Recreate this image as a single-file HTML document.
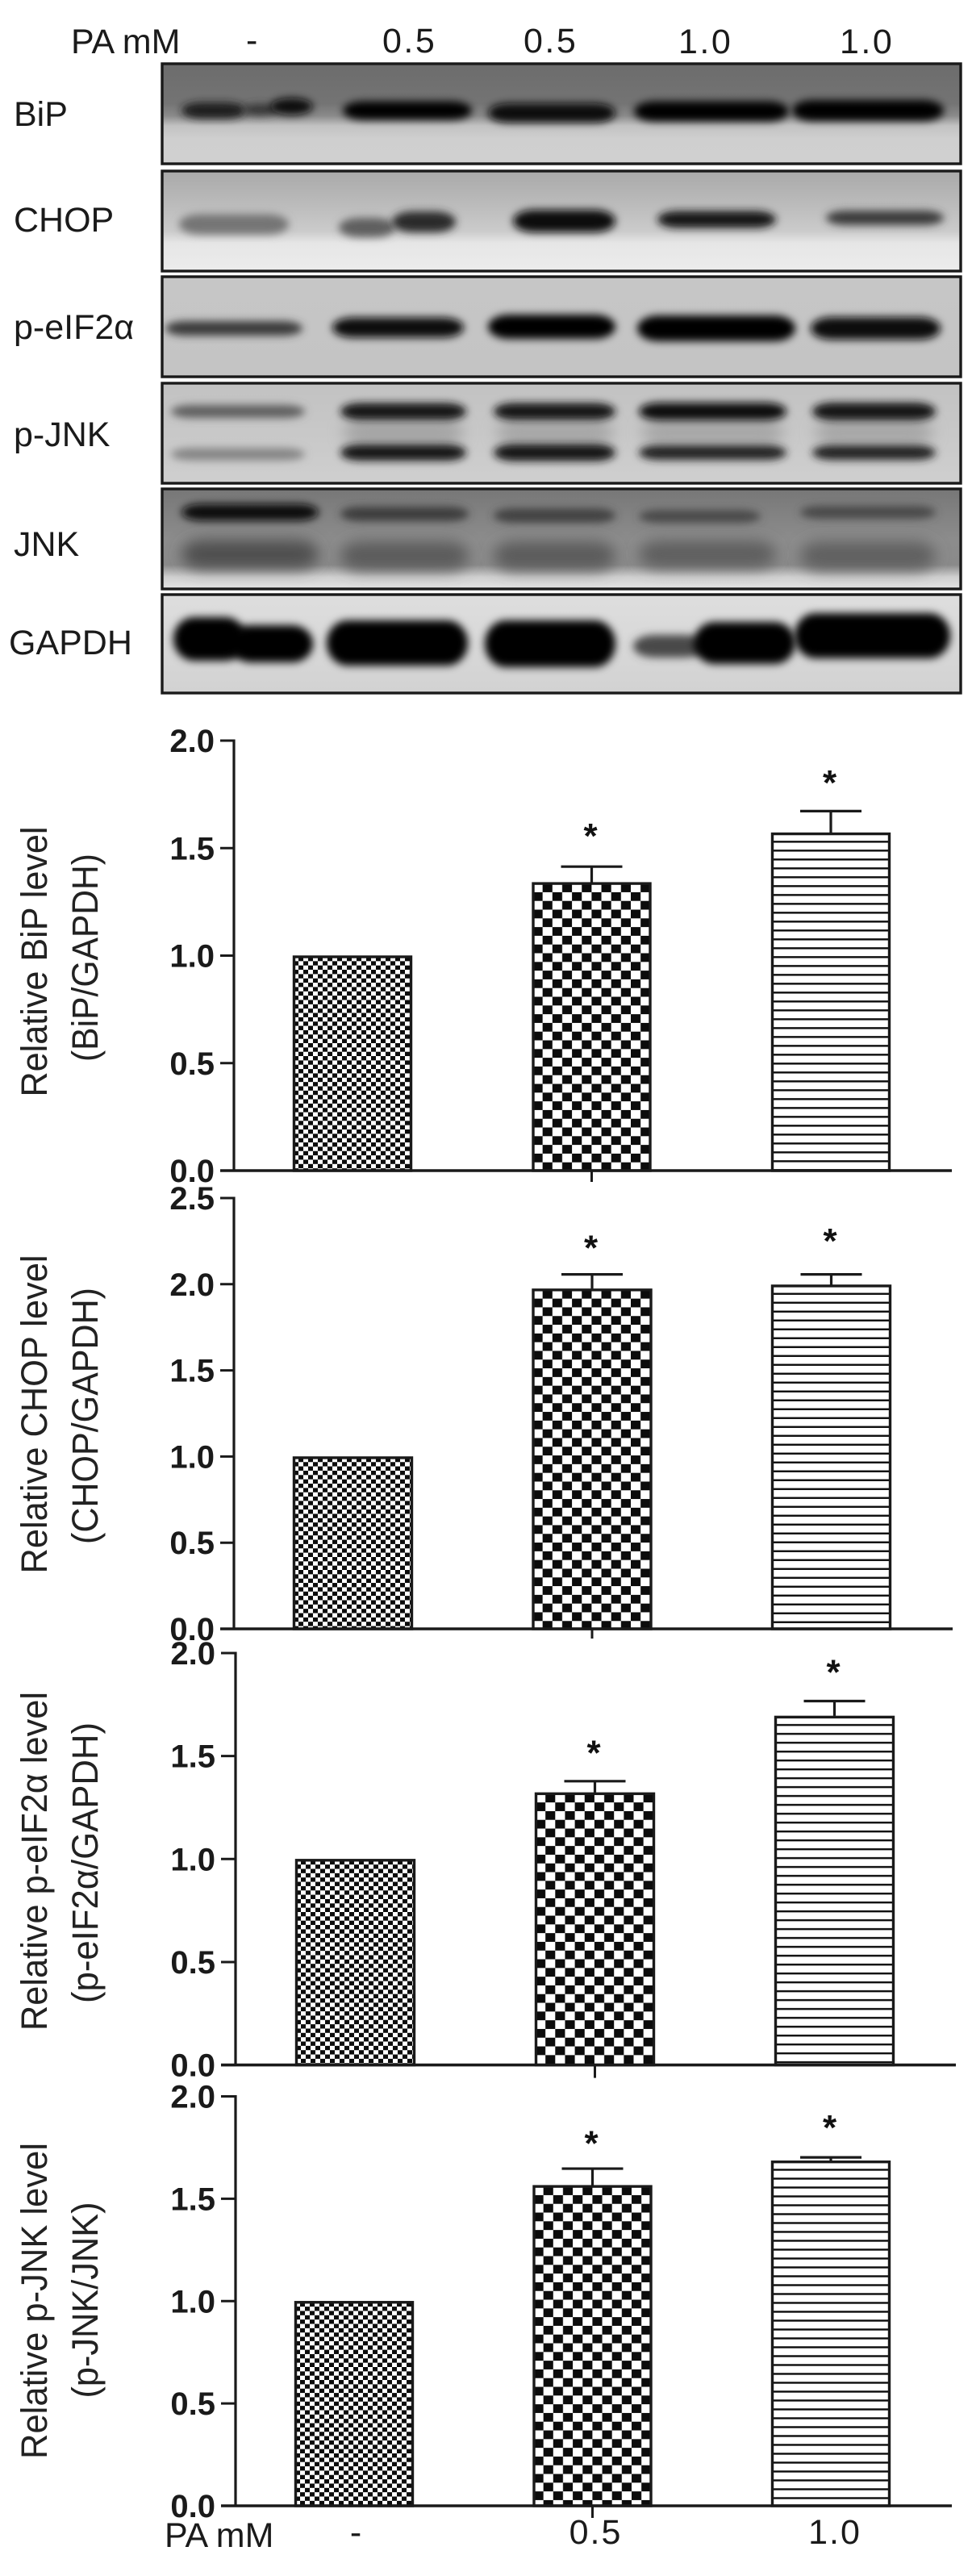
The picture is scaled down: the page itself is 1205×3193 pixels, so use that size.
<!DOCTYPE html>
<html lang="en">
<head>
<meta charset="utf-8">
<title>PA induced ER stress blots and quantification</title>
<style>
html,body{margin:0;padding:0;background:#fff;}
svg{display:block;font-family:"Liberation Sans",Arial,sans-serif;}
</style>
</head>
<body>
<svg id="figure" xmlns="http://www.w3.org/2000/svg" width="1205" height="3193" viewBox="0 0 1205 3193">
  <defs>
    <filter id="blur-band" x="-20%" y="-150%" width="140%" height="400%"><feGaussianBlur stdDeviation="5"/></filter>
    <filter id="blur-soft" x="-20%" y="-150%" width="140%" height="400%"><feGaussianBlur stdDeviation="9"/></filter>
  </defs>
  <g font-size="43" fill="#1a1a1a">
    <text x="88" y="66">PA mM</text>
    <text x="305" y="64">-</text>
    <text x="474" y="65" letter-spacing="2.5">0.5</text>
    <text x="649" y="65" letter-spacing="2.5">0.5</text>
    <text x="841" y="66" letter-spacing="2.5">1.0</text>
    <text x="1041" y="66" letter-spacing="2.5">1.0</text>
  </g>
  <g font-size="43" fill="#1a1a1a">
    <text x="17" y="156">BiP</text>
    <text x="17" y="287">CHOP</text>
    <text x="17" y="420">p-eIF2α</text>
    <text x="17" y="553">p-JNK</text>
    <text x="17" y="689">JNK</text>
    <text x="11" y="811">GAPDH</text>
  </g>
  <g id="blots"></g>
  <g id="charts"></g>
</svg>
<script>
// ---- chart data ----
const categories = ['-', '0.5', '1.0'];
const bipValues = [1.0, 1.341, 1.572];
const bipErrors = [0, 0.073, 0.100];
const bipStars = [null, 1.587, 1.835];
const bipTicks = ['0.0', '0.5', '1.0', '1.5', '2.0'];
const chopValues = [1.0, 1.974, 1.997];
const chopErrors = [0, 0.083, 0.060];
const chopStars = [null, 2.25, 2.29];
const chopTicks = ['0.0', '0.5', '1.0', '1.5', '2.0', '2.5'];
const eifValues = [1.0, 1.323, 1.695];
const eifErrors = [0, 0.055, 0.072];
const eifStars = [null, 1.548, 1.939];
const eifTicks = ['0.0', '0.5', '1.0', '1.5', '2.0'];
const jnkValues = [1.0, 1.566, 1.686];
const jnkErrors = [0, 0.081, 0.016];
const jnkStars = [null, 1.802, 1.88];
const jnkTicks = ['0.0', '0.5', '1.0', '1.5', '2.0'];

// ---- chart frames ----
const charts = [
  {key:'bip', values:bipValues, errors:bipErrors, stars:bipStars, ticks:bipTicks,
   top:918, base:1451, axisX:290, left:273, right:1180, first:437, step:296.5, barW:148, tickEnd:1465,
   title:'Relative BiP level', titleLen:335, titleMid:1192, sub:'(BiP/GAPDH)', subLen:258, subMid:1187},
  {key:'chop', values:chopValues, errors:chopErrors, stars:chopStars, ticks:chopTicks,
   top:1485, base:2019, axisX:290, left:273, right:1181, first:437.5, step:296.5, barW:149, tickEnd:2031,
   title:'Relative CHOP level', titleLen:395, titleMid:1753, sub:'(CHOP/GAPDH)', subLen:318, subMid:1755},
  {key:'p-eif2a', values:eifValues, errors:eifErrors, stars:eifStars, ticks:eifTicks,
   top:2049, base:2559.6, axisX:292, left:274, right:1185, first:440.5, step:297, barW:149, tickEnd:2575.6,
   title:'Relative p-eIF2α level', titleLen:420, titleMid:2307, sub:'(p-eIF2α/GAPDH)', subLen:348, subMid:2309},
  {key:'p-jnk', values:jnkValues, errors:jnkErrors, stars:jnkStars, ticks:jnkTicks,
   top:2598.5, base:3106, axisX:292, left:274, right:1180, first:439, step:295.5, barW:148, tickEnd:3121,
   title:'Relative p-JNK level', titleLen:392, titleMid:2852, sub:'(p-JNK/JNK)', subLen:243, subMid:2851}
];

// ---- blot panels: background gradient stops and blurred bands ----
const bipBackground = [[0,'#6c6c6c'],[0.4,'#747474'],[0.52,'#8a8a8a'],[0.62,'#c2c2c2'],[0.75,'#cfcfcf'],[1,'#d0d0d0']];
const chopBackground = [[0,'#a9a9a9'],[0.35,'#bcbcbc'],[0.6,'#cbcbcb'],[0.72,'#e6e6e6'],[1,'#ececec']];
const eifBackground = [[0,'#c6c6c6'],[1,'#c4c4c4']];
const pjnkBackground = [[0,'#c2c2c2'],[0.5,'#c8c8c8'],[1,'#cfcfcf']];
const jnkBackground = [[0,'#777777'],[0.5,'#8c8c8c'],[0.76,'#8a8a8a'],[0.88,'#cfcfcf'],[1,'#e4e4e4']];
const gapdhBackground = [[0,'#dedede'],[0.5,'#d8d8d8'],[1,'#d2d2d2']];

const bipBands = [[225,305,137,20,'#1a1a1a'],[300,345,136,14,'#333'],[335,388,132,21,'#0a0a0a'],[425,585,137,23,'#050505'],[605,763,140,24,'#0a0a0a'],[786,978,138,25,'#060606'],[982,1170,137,26,'#050505']];
const chopBands = [[222,358,278,25,'#747474'],[420,490,282,24,'#5e5e5e'],[486,565,275,26,'#2a2a2a'],[636,763,274,28,'#0e0e0e'],[815,962,272,21,'#181818'],[1024,1170,270,18,'#3a3a3a']];
const eifBands = [[205,375,407,18,'#3a3a3a'],[412,575,406,25,'#0a0a0a'],[605,763,405,30,'#060606'],[790,986,407,32,'#040404'],[1005,1166,407,28,'#0a0a0a']];
const pjnkBands = [[425,575,536,28,'#a2a2a2',1],[615,761,536,28,'#a4a4a4',1],[795,972,536,28,'#a4a4a4',1],[1010,1157,536,28,'#a4a4a4',1],
  [212,378,510,16,'#5e5e5e'],[212,378,563,15,'#848484'],[422,578,510,21,'#121212'],[422,578,561,20,'#181818'],[612,763,510,21,'#121212'],[612,763,561,21,'#181818'],[792,975,510,22,'#0e0e0e'],[792,975,561,18,'#202020'],[1007,1160,510,22,'#121212'],[1007,1160,561,18,'#222222']];
const jnkBands = [[225,395,635,21,'#0e0e0e'],[422,581,637,18,'#3c3c3c'],[612,763,639,18,'#424242'],[792,943,640,16,'#484848'],[992,1160,635,16,'#484848'],
  [225,395,687,36,'#505050',1],[422,581,689,36,'#5c5c5c',1],[612,763,689,36,'#5c5c5c',1],[792,962,687,34,'#5e5e5e',1],[992,1160,689,36,'#606060',1]];
const gapdhBands = [[215,305,792,54,'#000'],[285,388,798,46,'#000'],[405,580,797,56,'#000'],[601,763,798,58,'#000'],[785,875,801,28,'#4a4a4a'],[860,986,797,52,'#000'],[985,1178,788,56,'#000']];

const panels = [
  {key:'bip', x:201, y:79, w:990, h:124, stops:bipBackground, bands:bipBands},
  {key:'chop', x:201, y:212, w:990, h:124, stops:chopBackground, bands:chopBands},
  {key:'p-eif2a', x:201, y:343, w:990, h:124, stops:eifBackground, bands:eifBands},
  {key:'p-jnk', x:201, y:475, w:990, h:124, stops:pjnkBackground, bands:pjnkBands},
  {key:'jnk', x:201, y:606, w:990, h:124, stops:jnkBackground, bands:jnkBands},
  {key:'gapdh', x:201, y:737, w:990, h:122, stops:gapdhBackground, bands:gapdhBands}
];

const NS = 'http://www.w3.org/2000/svg';
const INK = '#1a1a1a';
const svgRoot = document.getElementById('figure');
const defsEl = svgRoot.querySelector('defs');

function make(tag, attrs, parent) {
  const node = document.createElementNS(NS, tag);
  for (const k in attrs) node.setAttribute(k, attrs[k]);
  if (parent) parent.appendChild(node);
  return node;
}

function drawPanels() {
  const host = document.getElementById('blots');
  panels.forEach(function (p) {
    const grad = make('linearGradient', {id:'bg-' + p.key, x1:0, y1:0, x2:0, y2:1}, defsEl);
    p.stops.forEach(function (s) { make('stop', {offset:s[0], 'stop-color':s[1]}, grad); });
    const clip = make('clipPath', {id:'clip-' + p.key}, defsEl);
    make('rect', {x:p.x, y:p.y, width:p.w, height:p.h}, clip);

    const g = make('g', {'clip-path':'url(#clip-' + p.key + ')'}, host);
    
    
    make('rect', {x:p.x, y:p.y, width:p.w, height:p.h, fill:'url(#bg-' + p.key + ')'}, g);
    p.bands.forEach(function (b, i) {
      const band = make('rect', {x:b[0], y:b[2] - b[3] / 2, width:b[1] - b[0], height:b[3], rx:26, ry:b[3] / 2, fill:b[4], filter:b[5] ? 'url(#blur-soft)' : 'url(#blur-band)'}, g);
      
      
    });
    const frame = make('rect', {x:p.x, y:p.y, width:p.w, height:p.h, fill:'none', stroke:INK, 'stroke-width':3.4}, host);
    
    
  });
}

function addPattern(id, kind, originX, originY) {
  if (kind === 0 || kind === 1) {
    const cw = kind === 0 ? 6 : 12.15;
    const ch = kind === 0 ? 5.35 : 10.8;
    const pat = make('pattern', {id:id, patternUnits:'userSpaceOnUse', x:originX, y:originY, width:cw * 2, height:ch * 2}, defsEl);
    make('rect', {x:0, y:0, width:cw * 2, height:ch * 2, fill:'#fff'}, pat);
    make('rect', {x:cw, y:0, width:cw, height:ch, fill:'#0c0c0c'}, pat);
    make('rect', {x:0, y:ch, width:cw, height:ch, fill:'#0c0c0c'}, pat);
  } else {
    const pat = make('pattern', {id:id, patternUnits:'userSpaceOnUse', x:originX, y:originY, width:10, height:11}, defsEl);
    make('rect', {x:0, y:0, width:10, height:11, fill:'#fff'}, pat);
    make('rect', {x:0, y:8.6, width:10, height:3, fill:'#0c0c0c'}, pat);
  }
}

function drawChart(c) {
  const host = document.getElementById('charts');
  const g = make('g', {}, host);
  
  

  const tickVals = c.ticks.map(Number);
  const yMax = Math.max.apply(null, tickVals);
  const y = function (v) { return c.base - (v / yMax) * (c.base - c.top); };
  const x = function (i) { return c.first + i * c.step; };

  // bars
  c.values.forEach(function (v, i) {
    const left = x(i) - c.barW / 2;
    const topY = y(v);
    const pid = 'fill-' + c.key + '-' + i;
    addPattern(pid, i, left + 1, topY + 1.5);
    const bar = make('rect', {x:left + 1.5, y:topY + 1.5, width:c.barW - 3, height:c.base - topY - 1.5, fill:'url(#' + pid + ')', stroke:INK, 'stroke-width':3.4}, g);
    
    

    if (c.errors[i] > 0) {
      const capY = y(v + c.errors[i]);
      const err = make('path', {d:'M' + (x(i) - 38) + ' ' + capY + 'H' + (x(i) + 38) + 'M' + x(i) + ' ' + capY + 'V' + topY, stroke:INK, 'stroke-width':3.2, fill:'none'}, g);
      
      
    }
    if (c.stars[i] !== null) {
      const star = make('text', {x:x(i) - 1.5, y:y(c.stars[i]) + 23, 'text-anchor':'middle', 'font-size':44, 'font-weight':'bold', fill:'#111'}, g);
      star.textContent = '*';
      
      
    }
  });

  // axes
  const yAxis = make('line', {x1:c.axisX, x2:c.axisX, y1:c.top - 1.5, y2:c.base, stroke:INK, 'stroke-width':3.2}, g);
  
  
  const xAxis = make('line', {x1:c.left, x2:c.right, y1:c.base, y2:c.base, stroke:INK, 'stroke-width':3.6}, g);
  
  
  const xTick = make('line', {x1:x(1), x2:x(1), y1:c.base, y2:c.tickEnd, stroke:INK, 'stroke-width':3}, g);
  
  

  c.ticks.forEach(function (label, i) {
    const ty = y(tickVals[i]);
    const tick = make('line', {x1:c.left, x2:c.axisX, y1:ty, y2:ty, stroke:INK, 'stroke-width':3}, g);
    
    
    const t = make('text', {x:c.left - 7, y:ty + 14, 'text-anchor':'end', 'font-size':40, 'font-weight':'bold', fill:INK}, g);
    t.textContent = label;
    
    
  });

  // y titles
  const title = make('text', {transform:'translate(58 ' + c.titleMid + ') rotate(-90)', 'text-anchor':'middle', 'font-size':45, fill:'#222', textLength:c.titleLen, lengthAdjust:'spacingAndGlyphs'}, g);
  title.textContent = c.title;
  
  
  const sub = make('text', {transform:'translate(121 ' + c.subMid + ') rotate(-90)', 'text-anchor':'middle', 'font-size':45, fill:'#222', textLength:c.subLen, lengthAdjust:'spacingAndGlyphs'}, g);
  sub.textContent = c.sub;
  
  
}

function drawBottomLabels() {
  const last = charts[charts.length - 1];
  const host = document.getElementById('charts');
  const g = make('g', {'font-size':43, fill:INK}, host);
  
  
  const pa = make('text', {x:204, y:3157}, g);
  pa.textContent = 'PA mM';
  
  
  categories.forEach(function (label, i) {
    const t = make('text', {x:last.first + i * last.step + 3 + i, y:3153, 'text-anchor':'middle', 'letter-spacing':2}, g);
    t.textContent = label;
    
    
  });
}

drawPanels();
charts.forEach(drawChart);
drawBottomLabels();
</script>
</body>
</html>
